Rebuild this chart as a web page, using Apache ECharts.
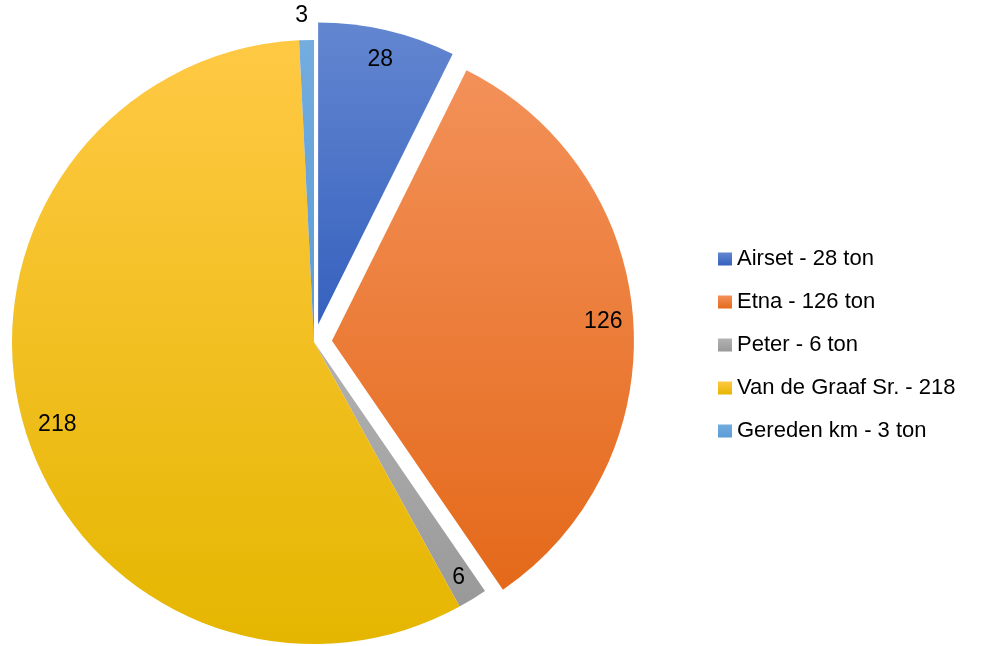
<!DOCTYPE html>
<html><head><meta charset="utf-8">
<script src="https://cdn.jsdelivr.net/npm/echarts@6/dist/echarts.min.js"></script>
<style>html,body{margin:0;padding:0;background:#fff}#c{width:982px;height:646px}</style>
</head><body><div id="c"></div>
<script>
const names = ['Airset - 28 ton', 'Etna - 126 ton', 'Peter - 6 ton', 'Van de Graaf Sr. - 218', 'Gereden km - 3 ton'];
const values = [28, 126, 6, 218, 3];
const exploded = [true, true, false, false, false];
const colorTop = ['#6386D0', '#F39159', '#B2B2B2', '#FFC944', '#74ADDF'];
const colorBottom = ['#3561BE', '#E4691A', '#999999', '#E5B600', '#5B9BD5'];

const grad = (i) => new echarts.graphic.LinearGradient(0, 0, 0, 1, [
  {offset: 0, color: colorTop[i]}, {offset: 1, color: colorBottom[i]}
]);

const center = [314, 342];
const R = 302;
const font = 'Liberation Sans, Arial, sans-serif';

const mainData = names.map((n, i) => ({
  name: n, value: values[i], selected: exploded[i], itemStyle: {color: grad(i)}
}));
const labelData = names.map((n, i) => {
  const d = {name: n, value: values[i], selected: exploded[i]};
  if (i === 0) d.label = {offset: [-3, 0]};
  if (i === 1) d.label = {offset: [-4, 5]};
  if (i === 2) d.label = {offset: [2, 4]};
  if (i === 3) d.label = {offset: [5, 8]};
  if (i === 4) {
    d.label = {position: 'outside', distanceToLabelLine: 0, offset: [2, -2]};
    d.labelLine = {show: false, length: 22, length2: 0};
  }
  return d;
});

const chart = echarts.init(document.getElementById('c'), null, {renderer: 'canvas'});
chart.setOption({
  animation: false,
  backgroundColor: '#fff',
  legend: {
    orient: 'vertical', left: 713, top: 242,
    icon: 'rect', itemWidth: 14, itemHeight: 13, itemGap: 19,
    selectedMode: false,
    textStyle: {fontFamily: font, fontSize: 22, color: '#000', lineHeight: 24, padding: [0, 0, 0, 0]},
    data: names
  },
  series: [
    {
      type: 'pie', center: center, radius: [0, R], startAngle: 90, clockwise: true,
      selectedMode: 'multiple', selectedOffset: 18, silent: true,
      avoidLabelOverlap: false,
      label: {show: false}, labelLine: {show: false},
      itemStyle: {borderWidth: 0},
      emphasis: {disabled: true},
      data: mainData
    },
    {
      type: 'pie', center: center, radius: [236, R], startAngle: 90, clockwise: true,
      selectedMode: 'multiple', selectedOffset: 18, silent: true,
      avoidLabelOverlap: false,
      itemStyle: {color: 'rgba(0,0,0,0)', borderWidth: 0},
      label: {show: true, position: 'inside', formatter: '{c}', color: '#000', fontFamily: font, fontSize: 23},
      labelLine: {show: false},
      emphasis: {disabled: true},
      legendHoverLink: false,
      data: labelData
    }
  ]
});
</script></body></html>
